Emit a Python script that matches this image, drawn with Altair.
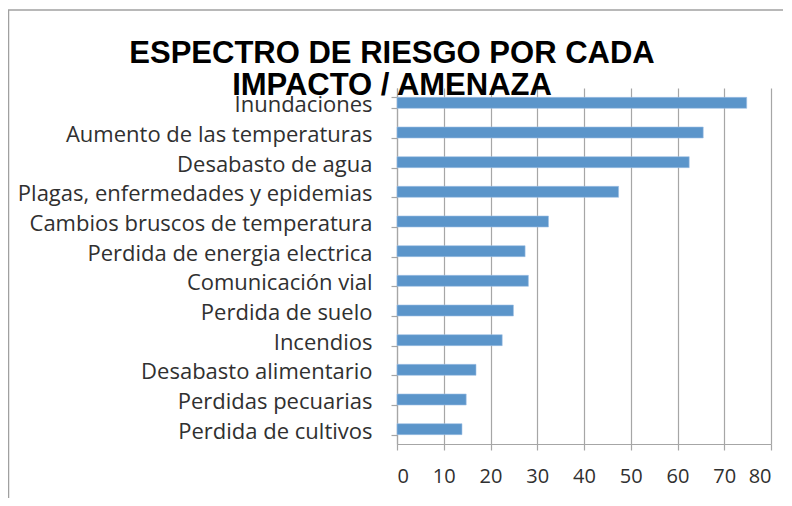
import altair as alt
import pandas as pd

categorias = [
    "Inundaciones",
    "Aumento de las temperaturas",
    "Desabasto de agua",
    "Plagas, enfermedades y epidemias",
    "Cambios bruscos de temperatura",
    "Perdida de energia electrica",
    "Comunicación vial",
    "Perdida de suelo",
    "Incendios",
    "Desabasto alimentario",
    "Perdidas pecuarias",
    "Perdida de cultivos",
]
valores = [74.8, 65.5, 62.5, 47.4, 32.4, 27.4, 28.1, 24.9, 22.5, 16.9, 14.8, 13.9]
ticks_x = [0, 10, 20, 30, 40, 50, 60, 70, 80]
titulo = ["ESPECTRO DE RIESGO POR CADA", "IMPACTO / AMENAZA"]

df = pd.DataFrame({"impacto": categorias, "valor": valores})

bars = alt.Chart(df).mark_bar(
    color="#5B95CA", stroke="#9DC0E4", strokeWidth=0.6
).encode(
    x=alt.X(
        "valor:Q",
        scale=alt.Scale(domain=[0, 80], nice=False),
        axis=alt.Axis(
            values=ticks_x,
            title=None,
            grid=True,
            gridColor="#A6A6A6",
            gridWidth=1.2,
            domainColor="#A6A6A6",
            domainWidth=1.2,
            tickColor="#A6A6A6",
            tickWidth=1.2,
            tickSize=6,
            labelFont="Open Sans",
            labelFontSize=20,
            labelColor="#303030",
            labelPadding=16,
        ),
    ),
    y=alt.Y(
        "impacto:N",
        sort=categorias,
        scale=alt.Scale(paddingInner=0.63, paddingOuter=0.315),
        axis=alt.Axis(
            title=None,
            grid=False,
            tickBand="extent",
            domainColor="#A6A6A6",
            domainWidth=1.2,
            tickColor="#A6A6A6",
            tickWidth=1.2,
            tickSize=6,
            labelFont="Open Sans",
            labelFontSize=22,
            labelColor="#303030",
            labelPadding=19,
            labelOffset=2,
            labelLimit=400,
        ),
    ),
)

marco = pd.DataFrame({"k": [0]})
top_rule = alt.Chart(marco).mark_rule(color="#A0A0A0", strokeWidth=1.5).encode(
    x=alt.value(-389), x2=alt.value(386), y=alt.value(-78)
)
left_rule = alt.Chart(marco).mark_rule(color="#A0A0A0", strokeWidth=1.5).encode(
    x=alt.value(-388.5), y=alt.value(-78), y2=alt.value(410)
)

chart = alt.layer(bars, top_rule, left_rule).properties(
    width=374,
    height=356,
    padding={"left": 389, "top": 80, "right": 12, "bottom": 54},
    autosize=alt.AutoSizeParams(type="none"),
    title=alt.TitleParams(
        text=titulo,
        font="Liberation Sans",
        fontSize=31,
        fontWeight="bold",
        color="#000000",
        anchor="middle",
        frame="group",
        dx=-192,
        dy=93,
        offset=0,
        lineHeight=32,
    ),
).configure_view(strokeWidth=0)

chart.save("out.html", embed_options={"renderer": "svg", "actions": False})
